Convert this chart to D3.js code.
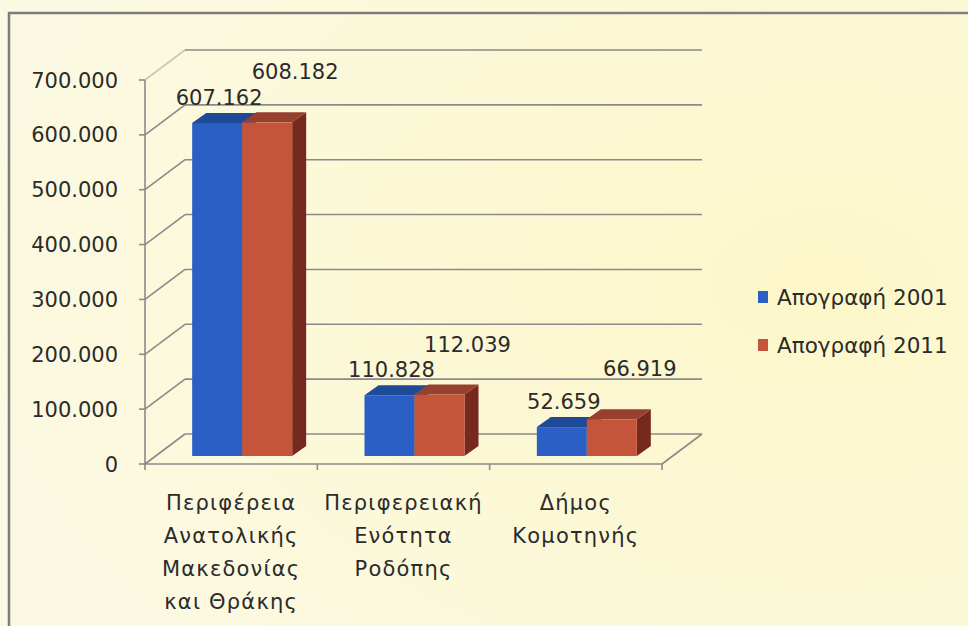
<!DOCTYPE html>
<html>
<head>
<meta charset="utf-8">
<script src="https://cdn.jsdelivr.net/npm/d3@7"></script>
<style>
  body { margin: 0; background: #fcf8d8; }
  svg { display: block; }
  text { font-family: "DejaVu Sans", "Noto Sans", sans-serif; fill: #2b2b2b; }
</style>
</head>
<body>
<div id="chart"></div>
<script>
// data
var categories = [
  ["Περιφέρεια", "Ανατολικής", "Μακεδονίας", "και Θράκης"],
  ["Περιφερειακή", "Ενότητα", "Ροδόπης"],
  ["Δήμος", "Κομοτηνής"]
];
var seriesNames = ["Απογραφή 2001", "Απογραφή 2011"];
var census2001 = [607162, 110828, 52659];
var census2011 = [608182, 112039, 66919];
var yTicks = [0, 100000, 200000, 300000, 400000, 500000, 600000, 700000];

var colors = [
  { front: "#2b5fc6", top: "#1f4a98", side: "#173a7c" },
  { front: "#c5553a", top: "#96402d", side: "#76291f" }
];

var w = 968, h = 626;
var svg = d3.select("#chart").append("svg").attr("width", w).attr("height", h);

// background
var defs = svg.append("defs");
var grad = defs.append("radialGradient").attr("id", "bg").attr("cx", "85%").attr("cy", "45%").attr("r", "90%");
grad.append("stop").attr("offset", "0%").attr("stop-color", "#fdf7c9");
grad.append("stop").attr("offset", "100%").attr("stop-color", "#fbf9e2");
svg.append("rect").attr("width", w).attr("height", h).attr("fill", "url(#bg)");

// frame
svg.append("path").attr("d", "M9,626 L9,13 L968,13")
  .attr("fill", "none").attr("stroke", "#7d7d7d").attr("stroke-width", 2.5);

// 3d geometry
var depthX = 40, depthY = -30;
var idx = d3.range(categories.length);
var x = d3.scaleBand().domain(idx).range([145, 662]);
var y = d3.scaleLinear().domain([0, 700000]).range([464, 80]);
var grid = svg.append("g").attr("stroke", "#8a8a8a").attr("stroke-width", 1.6).attr("fill", "none");

// back wall + side wall gridlines
yTicks.forEach(function (t) {
  var yf = y(t), yb = y(t) + depthY;
  grid.append("line").attr("x1", 145).attr("y1", yf).attr("x2", 145 + depthX).attr("y2", yb)
    .attr("stroke-opacity", t === 700000 ? 0.45 : 1);
  grid.append("line").attr("x1", 145 + depthX).attr("y1", yb).attr("x2", 662 + depthX).attr("y2", yb);
});
// floor
grid.append("line").attr("x1", 145).attr("y1", y(0)).attr("x2", 662).attr("y2", y(0));
grid.append("line").attr("x1", 662).attr("y1", y(0)).attr("x2", 662 + depthX).attr("y2", y(0) + depthY);

// front y axis
grid.append("line").attr("x1", 145).attr("y1", y(0)).attr("x2", 145).attr("y2", y(700000));
yTicks.forEach(function (t) {
  grid.append("line").attr("x1", 139).attr("y1", y(t)).attr("x2", 145).attr("y2", y(t));
});
// category ticks
idx.concat([categories.length]).forEach(function (i) {
  var xx = i < categories.length ? x(i) : 662;
  grid.append("line").attr("x1", xx).attr("y1", y(0)).attr("x2", xx).attr("y2", y(0) + 6);
});

var fmt = function (v) { return d3.format(",")(v).replace(/,/g, "."); };

svg.append("g").selectAll("text").data(yTicks).enter().append("text")
  .attr("x", 118).attr("y", function (d) { return y(d); }).attr("dy", "0.36em")
  .attr("text-anchor", "end").attr("font-size", 21)
  .text(function (d) { return d === 0 ? "0" : fmt(d); });

// bars
var barW = 50, offX = 11, offY = -8, bdx = 14, bdy = -10;
var series = [census2001, census2011];
var bars = svg.append("g");
idx.forEach(function (i) {
  var cx = x(i) + x.bandwidth() / 2 + offX;
  series.forEach(function (s, k) {
    var x0 = cx - barW + k * barW, x1 = x0 + barW;
    var yb = y(0) + offY, yt = y(s[i]) + offY;
    var c = colors[k];
    bars.append("path").attr("fill", c.side)
      .attr("d", "M" + x1 + "," + yb + "L" + (x1 + bdx) + "," + (yb + bdy) + "L" + (x1 + bdx) + "," + (yt + bdy) + "L" + x1 + "," + yt + "Z");
    bars.append("path").attr("fill", c.top)
      .attr("d", "M" + x0 + "," + yt + "L" + (x0 + bdx) + "," + (yt + bdy) + "L" + (x1 + bdx) + "," + (yt + bdy) + "L" + x1 + "," + yt + "Z");
    bars.append("rect").attr("x", x0).attr("y", yt).attr("width", barW).attr("height", yb - yt).attr("fill", c.front);
  });
});

// value labels
idx.forEach(function (i) {
  var cx = x(i) + x.bandwidth() / 2 + offX;
  svg.append("text").attr("x", cx - barW / 2 + 2).attr("y", y(census2001[i]) + offY - 18)
    .attr("text-anchor", "middle").attr("font-size", 21).text(fmt(census2001[i]));
  svg.append("text").attr("x", cx + barW / 2 + 28).attr("y", y(census2011[i]) + offY - 43)
    .attr("text-anchor", "middle").attr("font-size", 21).text(fmt(census2011[i]));
});

// category labels
idx.forEach(function (i) {
  var t = svg.append("text").attr("text-anchor", "middle").attr("font-size", 21)
    .attr("letter-spacing", 1.2)
    .attr("x", x(i) + x.bandwidth() / 2).attr("y", 510);
  categories[i].forEach(function (line, j) {
    t.append("tspan").attr("x", x(i) + x.bandwidth() / 2).attr("dy", j === 0 ? 0 : 33).text(line);
  });
});

// legend
var legend = svg.append("g").attr("transform", "translate(758,297)");
seriesNames.forEach(function (n, k) {
  var g = legend.append("g").attr("transform", "translate(0," + k * 48 + ")");
  g.append("rect").attr("x", 0).attr("y", -6).attr("width", 10).attr("height", 12).attr("fill", colors[k].front);
  g.append("text").attr("x", 19).attr("y", 0).attr("dy", "0.36em").attr("font-size", 21.5).text(n);
});
</script>
</body>
</html>
